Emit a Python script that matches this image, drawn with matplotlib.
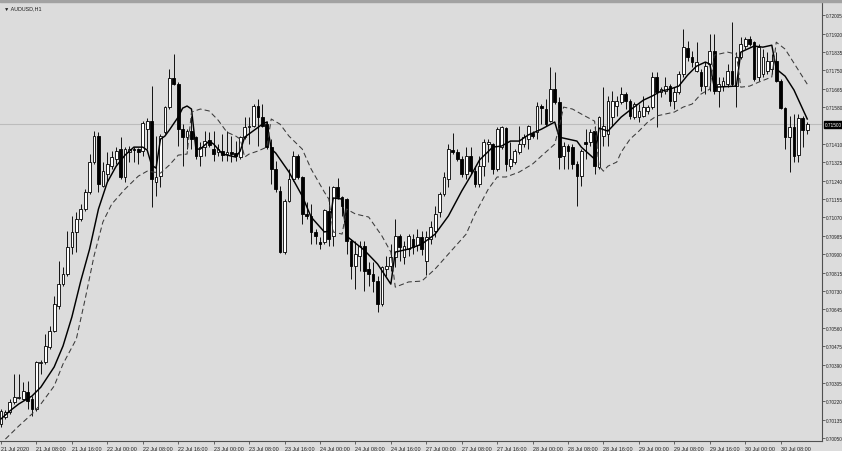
import numpy as np
import matplotlib.pyplot as plt
from matplotlib.patches import Rectangle

plt.rcParams['font.family'] = ['Liberation Sans', 'DejaVu Sans']

# AUDUSD H1, one candle per hour from 21 Jul 2020 00:00
opens = [0.70116, 0.70148, 0.70171, 0.70217, 0.70236, 0.70231, 0.70263, 0.70231, 0.70185, 0.70397,
         0.70402, 0.70471, 0.70545, 0.70661, 0.70762, 0.70809, 0.70933, 0.71003, 0.71063, 0.71109,
         0.71187, 0.71326, 0.71446, 0.71215, 0.71270, 0.71307, 0.71340, 0.71386, 0.71257, 0.71372,
         0.71386, 0.71386, 0.71377, 0.71478, 0.71515, 0.71233, 0.71261, 0.71464, 0.71580, 0.71714,
         0.71686, 0.71478, 0.71441, 0.71469, 0.71441, 0.71354, 0.71395, 0.71428, 0.71386, 0.71372,
         0.71377, 0.71363, 0.71372, 0.71368, 0.71349, 0.71441, 0.71488, 0.71492, 0.71585, 0.71534,
         0.71501, 0.71395, 0.71294, 0.71192, 0.70910, 0.71146, 0.71247, 0.71354, 0.71257, 0.71086,
         0.71077, 0.71003, 0.70956, 0.70956, 0.71100, 0.70984, 0.71210, 0.71164, 0.71155, 0.70961,
         0.70846, 0.70892, 0.70938, 0.70832, 0.70809, 0.70776, 0.70670, 0.70832, 0.70846, 0.70887,
         0.70984, 0.70887, 0.70924, 0.70970, 0.70942, 0.70979, 0.70869, 0.70970, 0.71007, 0.71095,
         0.71178, 0.71247, 0.71381, 0.71372, 0.71340, 0.71270, 0.71354, 0.71284, 0.71224, 0.71307,
         0.71409, 0.71409, 0.71294, 0.71395, 0.71483, 0.71307, 0.71326, 0.71372, 0.71409, 0.71432,
         0.71460, 0.71464, 0.71585, 0.71571, 0.71515, 0.71663, 0.71603, 0.71354, 0.71400, 0.71395,
         0.71317, 0.71261, 0.71418, 0.71418, 0.71469, 0.71303, 0.71446, 0.71455, 0.71534, 0.71585,
         0.71603, 0.71640, 0.71608, 0.71534, 0.71534, 0.71538, 0.71562, 0.71580, 0.71719, 0.71649,
         0.71654, 0.71677, 0.71608, 0.71649, 0.71733, 0.71853, 0.71811, 0.71746, 0.71742, 0.71677,
         0.71779, 0.71839, 0.71654, 0.71677, 0.71686, 0.71746, 0.71677, 0.71811, 0.71862, 0.71894,
         0.71880, 0.71719, 0.71733, 0.71746, 0.71756, 0.71793, 0.71700, 0.71575, 0.71441, 0.71488,
         0.71358, 0.71529, 0.71474]
highs = [0.70185, 0.70180, 0.70231, 0.70346, 0.70346, 0.70309, 0.70314, 0.70245, 0.70407, 0.70411,
         0.70531, 0.70568, 0.70707, 0.70869, 0.70841, 0.71007, 0.71077, 0.71095, 0.71132, 0.71201,
         0.71363, 0.71469, 0.71464, 0.71326, 0.71372, 0.71377, 0.71395, 0.71441, 0.71395, 0.71400,
         0.71395, 0.71391, 0.71515, 0.71529, 0.71677, 0.71446, 0.71455, 0.71585, 0.71756, 0.71825,
         0.71695, 0.71501, 0.71478, 0.71538, 0.71446, 0.71418, 0.71469, 0.71464, 0.71469, 0.71409,
         0.71455, 0.71469, 0.71446, 0.71423, 0.71446, 0.71534, 0.71534, 0.71594, 0.71617, 0.71594,
         0.71515, 0.71432, 0.71331, 0.71215, 0.71155, 0.71294, 0.71377, 0.71363, 0.71261, 0.71141,
         0.71132, 0.71016, 0.70979, 0.71109, 0.71215, 0.71215, 0.71252, 0.71169, 0.71160, 0.70970,
         0.70961, 0.70961, 0.70961, 0.70864, 0.70864, 0.70799, 0.70846, 0.70892, 0.70947, 0.71063,
         0.70993, 0.70961, 0.70993, 0.70993, 0.71016, 0.71007, 0.71007, 0.71053, 0.71123, 0.71187,
         0.71280, 0.71409, 0.71460, 0.71386, 0.71354, 0.71395, 0.71395, 0.71307, 0.71354, 0.71432,
         0.71432, 0.71414, 0.71488, 0.71492, 0.71488, 0.71418, 0.71386, 0.71492, 0.71455, 0.71497,
         0.71469, 0.71603, 0.71594, 0.71617, 0.71765, 0.71742, 0.71626, 0.71418, 0.71409, 0.71409,
         0.71331, 0.71386, 0.71478, 0.71478, 0.71492, 0.71538, 0.71672, 0.71631, 0.71654, 0.71631,
         0.71672, 0.71649, 0.71617, 0.71603, 0.71594, 0.71631, 0.71589, 0.71742, 0.71742, 0.71672,
         0.71719, 0.71686, 0.71672, 0.71746, 0.71940, 0.71885, 0.71839, 0.71880, 0.71756, 0.71788,
         0.71917, 0.71917, 0.71719, 0.71719, 0.71779, 0.71973, 0.71834, 0.71903, 0.71903, 0.71908,
         0.71885, 0.71871, 0.71848, 0.71834, 0.71825, 0.71834, 0.71709, 0.71580, 0.71538, 0.71548,
         0.71548, 0.71538, 0.71511]
lows = [0.70102, 0.70139, 0.70162, 0.70208, 0.70231, 0.70226, 0.70185, 0.70152, 0.70176, 0.70346,
        0.70393, 0.70462, 0.70540, 0.70647, 0.70753, 0.70799, 0.70901, 0.70910, 0.71053, 0.71100,
        0.71178, 0.71317, 0.71187, 0.71210, 0.71233, 0.71294, 0.71317, 0.71247, 0.71233, 0.71326,
        0.71326, 0.71317, 0.71354, 0.71386, 0.71118, 0.71169, 0.71210, 0.71455, 0.71571, 0.71682,
        0.71400, 0.71307, 0.71386, 0.71386, 0.71340, 0.71307, 0.71354, 0.71395, 0.71331, 0.71354,
        0.71331, 0.71331, 0.71326, 0.71331, 0.71340, 0.71432, 0.71409, 0.71488, 0.71400, 0.71488,
        0.71386, 0.71224, 0.71187, 0.70905, 0.70901, 0.71141, 0.71238, 0.71247, 0.71039, 0.71063,
        0.70947, 0.70947, 0.70924, 0.70947, 0.70938, 0.70938, 0.71155, 0.71077, 0.70901, 0.70785,
        0.70739, 0.70822, 0.70730, 0.70753, 0.70725, 0.70633, 0.70661, 0.70799, 0.70822, 0.70841,
        0.70869, 0.70855, 0.70892, 0.70901, 0.70915, 0.70896, 0.70804, 0.70947, 0.70979, 0.71072,
        0.71169, 0.71210, 0.71363, 0.71331, 0.71257, 0.71247, 0.71270, 0.71210, 0.71210, 0.71261,
        0.71326, 0.71270, 0.71284, 0.71386, 0.71284, 0.71294, 0.71317, 0.71363, 0.71395, 0.71386,
        0.71437, 0.71432, 0.71501, 0.71492, 0.71511, 0.71594, 0.71294, 0.71294, 0.71294, 0.71294,
        0.71123, 0.71215, 0.71340, 0.71400, 0.71270, 0.71294, 0.71400, 0.71400, 0.71492, 0.71538,
        0.71594, 0.71571, 0.71525, 0.71525, 0.71511, 0.71534, 0.71548, 0.71571, 0.71488, 0.71626,
        0.71640, 0.71585, 0.71571, 0.71640, 0.71719, 0.71793, 0.71765, 0.71742, 0.71654, 0.71640,
        0.71654, 0.71640, 0.71580, 0.71654, 0.71672, 0.71677, 0.71580, 0.71802, 0.71848, 0.71862,
        0.71700, 0.71700, 0.71719, 0.71733, 0.71733, 0.71695, 0.71571, 0.71386, 0.71280, 0.71326,
        0.71326, 0.71395, 0.71455]
closes = [0.70176, 0.70171, 0.70217, 0.70240, 0.70240, 0.70268, 0.70222, 0.70185, 0.70402, 0.70402,
          0.70476, 0.70545, 0.70670, 0.70762, 0.70809, 0.70933, 0.71003, 0.71063, 0.71109, 0.71187,
          0.71326, 0.71446, 0.71224, 0.71284, 0.71317, 0.71349, 0.71377, 0.71257, 0.71386, 0.71386,
          0.71381, 0.71372, 0.71506, 0.71515, 0.71247, 0.71257, 0.71446, 0.71580, 0.71714, 0.71686,
          0.71478, 0.71441, 0.71469, 0.71432, 0.71354, 0.71395, 0.71423, 0.71404, 0.71363, 0.71386,
          0.71358, 0.71372, 0.71363, 0.71354, 0.71441, 0.71488, 0.71492, 0.71585, 0.71534, 0.71492,
          0.71395, 0.71294, 0.71201, 0.70910, 0.71146, 0.71247, 0.71354, 0.71257, 0.71086, 0.71077,
          0.71003, 0.70984, 0.70947, 0.71104, 0.70970, 0.71210, 0.71164, 0.71123, 0.70961, 0.70846,
          0.70901, 0.70938, 0.70822, 0.70809, 0.70776, 0.70670, 0.70841, 0.70846, 0.70887, 0.70984,
          0.70933, 0.70938, 0.70984, 0.70933, 0.70979, 0.70924, 0.70979, 0.71026, 0.71086, 0.71178,
          0.71257, 0.71386, 0.71372, 0.71340, 0.71270, 0.71354, 0.71284, 0.71224, 0.71307, 0.71418,
          0.71418, 0.71294, 0.71478, 0.71488, 0.71317, 0.71340, 0.71377, 0.71409, 0.71441, 0.71492,
          0.71446, 0.71585, 0.71575, 0.71501, 0.71663, 0.71603, 0.71349, 0.71400, 0.71377, 0.71317,
          0.71261, 0.71377, 0.71409, 0.71464, 0.71307, 0.71534, 0.71492, 0.71608, 0.71608, 0.71608,
          0.71640, 0.71608, 0.71538, 0.71594, 0.71562, 0.71580, 0.71580, 0.71719, 0.71649, 0.71663,
          0.71677, 0.71608, 0.71649, 0.71733, 0.71857, 0.71811, 0.71788, 0.71788, 0.71677, 0.71769,
          0.71839, 0.71654, 0.71686, 0.71700, 0.71746, 0.71686, 0.71811, 0.71871, 0.71894, 0.71871,
          0.71709, 0.71857, 0.71811, 0.71793, 0.71793, 0.71700, 0.71575, 0.71441, 0.71488, 0.71354,
          0.71529, 0.71474, 0.71500]

# solid moving average, read at these candle numbers
fast_bar = [0, 2, 4, 7, 9, 12, 14, 16, 18, 20, 22, 24, 26, 28, 30, 32, 33, 34, 35, 36,
            37, 38, 40, 41, 42, 43, 44, 45, 47, 48, 50, 53, 54, 55, 59, 60, 61, 62, 65, 68,
            70, 73, 74, 75, 77, 78, 82, 85, 88, 89, 92, 95, 98, 101, 104, 106, 108, 111, 113, 115,
            117, 119, 122, 125, 126, 130, 131, 134, 135, 137, 140, 142, 145, 147, 149, 151, 153, 155, 157, 159,
            160, 161, 166, 167, 170, 172, 174, 175, 177, 179, 182]
fast_val = [0.70139, 0.70176, 0.70208, 0.70245, 0.70286, 0.70379, 0.70476, 0.70610, 0.70776, 0.70924,
            0.71109, 0.71233, 0.71307, 0.71358, 0.71395, 0.71395, 0.71381, 0.71312, 0.71298, 0.71432,
            0.71446, 0.71474, 0.71534, 0.71575, 0.71585, 0.71571, 0.71386, 0.71386, 0.71423, 0.71409,
            0.71363, 0.71349, 0.71377, 0.71441, 0.71501, 0.71511, 0.71386, 0.71368, 0.71280, 0.71169,
            0.71072, 0.71003, 0.71007, 0.71160, 0.71155, 0.70984, 0.70919, 0.70855, 0.70762, 0.70910,
            0.70924, 0.70947, 0.70993, 0.71077, 0.71192, 0.71261, 0.71335, 0.71395, 0.71400, 0.71423,
            0.71423, 0.71451, 0.71478, 0.71511, 0.71441, 0.71423, 0.71395, 0.71340, 0.71483, 0.71469,
            0.71534, 0.71566, 0.71612, 0.71631, 0.71654, 0.71663, 0.71677, 0.71728, 0.71769, 0.71788,
            0.71779, 0.71672, 0.71677, 0.71834, 0.71862, 0.71857, 0.71866, 0.71756, 0.71723, 0.71659,
            0.71525]

# dashed moving average
slow_bar = [1, 4, 7, 9, 12, 14, 17, 19, 21, 23, 25, 28, 31, 33, 36, 38, 40, 42, 43, 45,
            47, 49, 51, 53, 54, 55, 56, 58, 60, 61, 63, 65, 68, 70, 73, 74, 75, 77, 78, 80,
            83, 86, 88, 89, 92, 95, 98, 101, 105, 107, 110, 112, 114, 117, 120, 122, 125, 126, 127, 129,
            131, 134, 135, 136, 137, 139, 140, 142, 144, 146, 148, 150, 152, 154, 156, 158, 160, 161, 164, 166,
            167, 169, 171, 174, 175, 177, 182]
slow_val = [0.70046, 0.70106, 0.70162, 0.70208, 0.70291, 0.70393, 0.70508, 0.70693, 0.70892, 0.71049,
            0.71132, 0.71201, 0.71261, 0.71284, 0.71275, 0.71312, 0.71358, 0.71363, 0.71557, 0.71571,
            0.71562, 0.71520, 0.71464, 0.71446, 0.71432, 0.71349, 0.71363, 0.71377, 0.71395, 0.71525,
            0.71501, 0.71446, 0.71386, 0.71294, 0.71187, 0.71155, 0.71003, 0.70993, 0.71109, 0.71086,
            0.71072, 0.70984, 0.70910, 0.70748, 0.70772, 0.70776, 0.70832, 0.70901, 0.70993, 0.71086,
            0.71201, 0.71257, 0.71257, 0.71280, 0.71317, 0.71354, 0.71409, 0.71488, 0.71580, 0.71571,
            0.71548, 0.71515, 0.71307, 0.71284, 0.71307, 0.71326, 0.71372, 0.71432, 0.71469, 0.71511,
            0.71539, 0.71548, 0.71557, 0.71580, 0.71594, 0.71640, 0.71663, 0.71820, 0.71834, 0.71825,
            0.71672, 0.71677, 0.71695, 0.71719, 0.71880, 0.71848, 0.71686]

x_labels = ['21 Jul 2020', '21 Jul 08:00', '21 Jul 16:00', '22 Jul 00:00', '22 Jul 08:00',
            '22 Jul 16:00', '23 Jul 00:00', '23 Jul 08:00', '23 Jul 16:00', '24 Jul 00:00',
            '24 Jul 08:00', '24 Jul 16:00', '27 Jul 00:00', '27 Jul 08:00', '27 Jul 16:00',
            '28 Jul 00:00', '28 Jul 08:00', '28 Jul 16:00', '29 Jul 00:00', '29 Jul 08:00',
            '29 Jul 16:00', '30 Jul 00:00', '30 Jul 08:00']
y_levels = [0.72005, 0.71920, 0.71835, 0.71750, 0.71665, 0.71580, 0.71410, 0.71325,
            0.71240, 0.71155, 0.71070, 0.70985, 0.70900, 0.70815, 0.70730, 0.70645,
            0.70560, 0.70475, 0.70390, 0.70305, 0.70220, 0.70135, 0.70050]
last_price = 0.71500

bg = '#dcdcdc'
fig = plt.figure(figsize=(8.42, 4.52), dpi=100, facecolor=bg)
ax = fig.add_axes([0, 10 / 452, 822 / 842, 438 / 452])
ax.set_facecolor(bg)

o = np.array(opens)
c = np.array(closes)
x = np.arange(len(c))
up = c >= o

ax.axhline(last_price, color='#bcbcbc', lw=0.8, zorder=1)
ax.vlines(x, lows, highs, color='#111111', lw=0.7, zorder=2)
ax.bar(x, np.maximum(np.abs(c - o), 0.000004), bottom=np.minimum(o, c), width=0.62,
       color=np.where(up, 'white', 'black'), edgecolor='black', linewidth=0.6, zorder=3)

ax.plot(fast_bar, fast_val, color='black', lw=1.05, zorder=4)
ax.plot(slow_bar, slow_val, color='#3a3a3a', lw=0.75, dashes=(5, 3), zorder=4)

ax.set_xlim(-0.226, 185.33)
ax.set_ylim(0.70037, 0.72061)

for s in ['left', 'top']:
    ax.spines[s].set_visible(False)
for s in ['right', 'bottom']:
    ax.spines[s].set_color('#505050')
    ax.spines[s].set_linewidth(0.8)

ax.yaxis.tick_right()
ax.set_yticks(y_levels)
ax.set_yticklabels(['%.5f' % v for v in y_levels])
ax.tick_params(axis='y', direction='out', length=2.0, width=0.6, color='#505050',
               labelsize=3.4, pad=0.5, labelcolor='#202020')

ax.set_xticks(range(0, 8 * len(x_labels), 8))
ax.set_xticklabels(x_labels, ha='left')
ax.tick_params(axis='x', direction='out', length=2.5, width=0.6, color='#505050',
               labelsize=3.9, pad=0.8, labelcolor='#202020')

ax.text(1.0035, last_price, '%.5f' % last_price, transform=ax.get_yaxis_transform(),
        fontsize=3.4, color='white', ha='left', va='center', zorder=6,
        bbox=dict(boxstyle='square,pad=0.2', fc='black', ec='black'), clip_on=False)

fig.patches.append(Rectangle((0, 1 - 3 / 452), 1, 3 / 452, transform=fig.transFigure,
                             color='#a2a2a2', zorder=0))
fig.text(4 / 842, 1 - 8.5 / 452, '\u25bc AUDUSD,H1', fontsize=3.9, va='center', color='#202020')

fig.savefig('out.png', dpi=100, facecolor=bg)
